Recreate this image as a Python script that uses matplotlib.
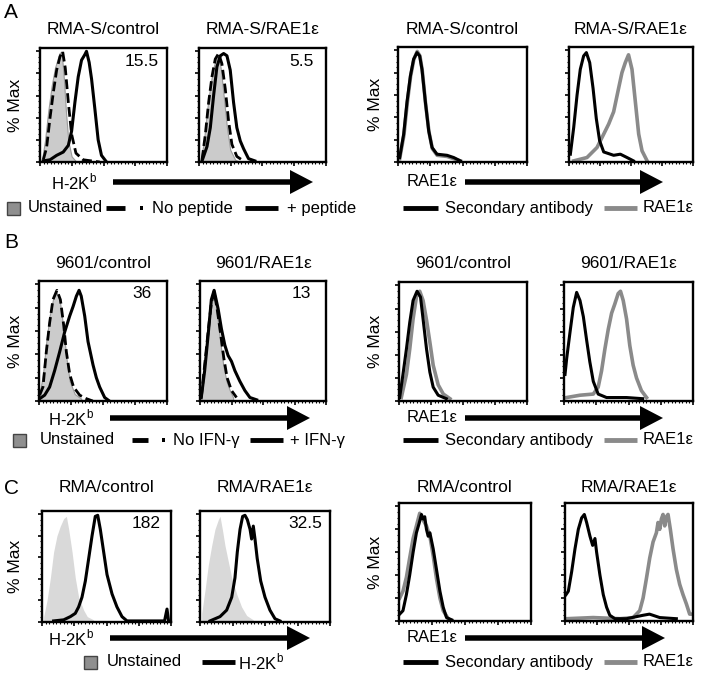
import matplotlib
matplotlib.use("Agg")
from matplotlib import pyplot as plt
from matplotlib import ticker as ticker
import numpy as np

plt.rcParams['font.family'] = ['Liberation Sans', 'DejaVu Sans']

# Histogram outlines: (fluorescence 0-100, % of max)
# Row A, H-2Kb
A1_UNST = [(1.3, 0), (3.9, 19), (6.5, 46), (9.2, 69), (11.8, 85), (15.2, 98), (17, 100), (18.8, 75),
           (20.4, 46), (22.3, 19), (24.9, 5), (28.8, 0)]
A1_NOPEP = [(2.6, 2), (5.2, 13), (7.9, 40), (10.5, 63), (13.1, 83), (15.7, 95), (17.8, 100), (19.9, 85),
            (22.3, 54), (24.9, 25), (28.3, 8), (34, 2), (47, 0)]
A1_PEP = [(2.6, 1), (7.9, 2), (13.1, 6), (18.3, 9), (22.3, 15), (24.9, 28), (27.5, 54), (30.1, 77),
          (32.7, 92), (35.3, 97), (36.6, 100), (38.7, 90), (40.6, 75), (43.2, 48), (45.8, 20), (48.4, 6), (52.4, 0)]
A2_UNST = [(1.0, 0), (3.7, 17), (6.3, 46), (8.9, 69), (11.5, 86), (14.1, 95), (15.4, 97), (17.3, 83),
           (19.4, 60), (22, 31), (24.6, 11), (28.5, 2), (32.5, 0)]
A2_NOPEP = [(2.4, 2), (5, 25), (7.6, 54), (10.2, 77), (12.8, 93), (15.4, 98), (18, 89), (20.7, 66),
            (23.3, 37), (25.9, 16), (29.8, 5), (35, 1)]
A2_PEP = [(2.4, 1), (6.3, 14), (8.9, 31), (11.5, 60), (14.1, 86), (16.8, 96), (19.4, 98), (22, 96),
          (24.6, 83), (27.2, 54), (29.8, 31), (32.5, 19), (35.1, 12), (39, 3), (44, 1)]
# Row A, RAE1e
A3_SEC = [(1.3, 4), (4.4, 25), (7, 54), (9.6, 77), (12.1, 92), (14.7, 98), (16.8, 95), (18.6, 83),
          (21.2, 54), (23.8, 28), (26.4, 13), (30.2, 7), (38, 6), (43.2, 4), (48.3, 1)]
A3_RAE = [(1.3, 3), (4.6, 24), (7.2, 53), (9.8, 77), (12.3, 92), (14.9, 99), (17, 95), (18.8, 82),
          (21.4, 52), (24, 27), (26.6, 12), (30.4, 6), (38, 5), (43.2, 3), (48.3, 1)]
A4_SEC = [(1.1, 7), (3.8, 31), (6.5, 60), (9.1, 83), (11.8, 95), (14, 98), (16.7, 89), (19.4, 66),
          (22, 39), (24.7, 19), (28, 9), (36, 6), (41.4, 7), (46.8, 4), (52, 1)]
A4_RAE = [(3.8, 1), (14.5, 4), (22.6, 13), (28, 25), (32, 34), (36, 45), (40, 66), (42.7, 80),
          (45.4, 89), (48, 96), (50.8, 83), (53.5, 54), (56.2, 25), (58.9, 10), (63, 1)]
# Row B, H-2Kb
B1_UNST = [(0.5, 6), (3.1, 23), (5.7, 51), (8.3, 73), (10.9, 87), (13.5, 94), (16.1, 87), (18.8, 65),
           (21.4, 37), (24, 17), (27.9, 6), (33, 2)]
B1_NOIFN = [(0.5, 5), (3.1, 12), (5.7, 42), (8.3, 67), (10.9, 87), (14, 95), (16.7, 87), (19.3, 65),
            (21.4, 42), (24, 23), (27, 12), (31.8, 5), (37, 2), (42, 0)]
B1_IFN = [(0.5, 2), (4.4, 5), (8.3, 12), (12.2, 26), (16.1, 42), (20, 59), (24, 73), (26.6, 81),
          (29.2, 90), (31.3, 95), (33, 90), (35.7, 73), (38.3, 51), (42.2, 31), (44.8, 20), (47.4, 12),
          (51.3, 3), (55, 0)]
B2_UNST = [(1, 3), (2.9, 26), (5, 51), (7.7, 79), (10.4, 95), (13, 79), (15.7, 54), (18.4, 31),
           (21, 17), (23.7, 9), (26.3, 3)]
B2_NOIFN = [(1, 3), (3.7, 31), (6.4, 59), (9, 84), (11.2, 94), (13.6, 79), (16.2, 59), (18.9, 37),
            (21.5, 20), (25, 9), (29, 3)]
B2_IFN = [(1, 3), (3.7, 26), (6.4, 56), (9, 87), (11.2, 95), (14.4, 79), (17, 62), (19.7, 48),
          (22.3, 39), (25, 34), (27.7, 26), (31.6, 17), (35.6, 9), (39.6, 3), (45, 1)]
# Row B, RAE1e
B3_SEC = [(0.5, 3), (3.1, 23), (5.8, 45), (8.4, 68), (11, 87), (14.1, 95), (16.8, 90), (18.8, 71),
          (21.5, 45), (24.1, 25), (26.7, 12), (30.6, 5), (37, 2)]
B3_RAE = [(1.8, 3), (5.8, 23), (8.4, 45), (11, 71), (13.6, 90), (16.2, 95), (18.8, 87), (21.5, 70),
          (24.1, 51), (26.7, 31), (30.6, 14), (34.6, 6), (39.8, 2)]
B4_SEC = [(0.8, 23), (2.1, 37), (4.6, 59), (7.2, 81), (9.8, 94), (12.4, 87), (15, 73), (17.5, 53),
          (20, 34), (22.7, 17), (26.5, 6), (33, 3), (48.5, 3), (61, 2)]
B4_RAE = [(2, 3), (12.4, 5), (22.7, 6), (26.5, 12), (29.1, 26), (31.7, 45), (34.3, 62), (36.9, 76),
          (39.4, 84), (42, 93), (43.8, 95), (45.9, 87), (48.5, 71), (51, 48), (53.6, 31), (56.2, 20),
          (60, 9), (64, 3)]
# Row C, H-2Kb
C1_UNST = [(1.3, 5), (3.9, 20), (6.5, 41), (9, 65), (11.6, 80), (14.2, 89), (16.8, 96), (18.9, 98),
           (20.7, 86), (23.3, 65), (25.8, 41), (28.4, 23), (32.3, 11), (35.1, 5), (40, 2)]
C1_STAIN = [(9, 1), (16.8, 2), (22, 5), (25.8, 8), (28.4, 14), (31, 23), (33.6, 38), (36.2, 59),
            (38.8, 80), (41.3, 98), (43.2, 99), (45.2, 86), (47.8, 65), (50.4, 44), (54.3, 26),
            (58.1, 14), (62, 5), (65.9, 1), (95, 1), (96.9, 12), (98, 2)]
C2_UNST = [(1.3, 8), (3.8, 29), (6.4, 53), (9, 71), (11.5, 86), (14.1, 95), (15.4, 98), (17.2, 86),
           (19.2, 71), (21.8, 56), (24.4, 41), (28.2, 26), (32, 14), (35.9, 6), (41, 2)]
C2_STAIN = [(7.7, 1), (15.4, 5), (20.5, 11), (24.4, 23), (26.9, 41), (28.7, 65), (30.8, 86), (32.8, 98),
            (34.6, 99), (36.4, 95), (38.5, 86), (39.7, 77), (41, 89), (42.3, 77), (44, 59), (46.7, 38),
            (50, 23), (53.8, 11), (57.7, 3), (61.5, 1)]
# Row C, RAE1e
C3_SEC = [(0.5, 6), (3, 9), (5.6, 23), (8.1, 40), (10.7, 60), (13.2, 77), (15.2, 85), (17, 93),
          (18.3, 89), (19.5, 91), (20.8, 80), (22.1, 74), (23.4, 77), (25.9, 63), (28.4, 45), (31, 26),
          (33.5, 12), (36, 3), (40, 1)]
C3_RAE = [(0.5, 20), (3, 26), (5.6, 38), (8.1, 55), (10.7, 72), (13.2, 83), (15.7, 94), (18.3, 88),
          (20.8, 83), (23.4, 74), (25.9, 57), (28.4, 37), (31, 20), (33.5, 9), (37.3, 2)]
C4_SEC = [(0.8, 23), (2.6, 26), (5.2, 43), (7.8, 63), (10.4, 80), (13, 90), (15.1, 93), (16.9, 86),
          (19.5, 74), (21.6, 66), (23.4, 72), (24.7, 60), (27.3, 40), (29.9, 23), (32.5, 12), (35, 5),
          (39, 2), (48, 2), (61, 5), (66, 6), (74, 3), (87, 2)]
C4_RAE = [(1.3, 2), (22, 3), (42.9, 2), (53.2, 3), (58.4, 9), (61, 20), (63.6, 37), (66.2, 55),
          (68.8, 69), (71.4, 77), (72.7, 86), (74, 80), (75.3, 89), (76.6, 93), (77.9, 83), (79.2, 91),
          (80.5, 93), (82.3, 80), (84.4, 63), (87, 45), (89.6, 32), (92.2, 23), (94.8, 15), (97.4, 6),
          (99.5, 6)]

TITLES = ["RMA-S/control", "RMA-S/RAE1ε", "9601/control", "9601/RAE1ε", "RMA/control", "RMA/RAE1ε"]
NUMBERS = ["15.5", "5.5", "36", "13", "182", "32.5"]

W, H = 704, 676
GRAY_FILL = "#cbcbcb"
GRAY_FILL_C = "#d9d9d9"
GRAY_LINE = "#8a8a8a"

fig = plt.figure(figsize=(W / 100, H / 100), dpi=100)


def panel(box, curves):
    x0, y0, x1, y1 = box
    ax = fig.add_axes([x0 / W, 1 - y1 / H, (x1 - x0) / W, (y1 - y0) / H])
    for kind, pts in curves:
        xs = [p[0] for p in pts]
        ys = [p[1] for p in pts]
        if kind == "fill":
            ax.fill_between(xs, ys, 0, color=GRAY_FILL, lw=0.8, edgecolor="#9a9a9a", zorder=1)
        elif kind == "fillc":
            ax.fill_between(xs, ys, 0, color=GRAY_FILL_C, lw=0, zorder=1)
        elif kind == "dash":
            ax.plot(xs, ys, color="k", lw=2.0, dashes=(3.5, 1.5), zorder=3)
        elif kind == "black":
            ax.plot(xs, ys, color="k", lw=2.2, zorder=3)
        elif kind == "gray":
            ax.plot(xs, ys, color=GRAY_LINE, lw=2.6, zorder=2)
    ax.set_xlim(0, 100)
    ax.set_ylim(0, 103)
    for s in ax.spines.values():
        s.set_linewidth(1.7)
    ax.xaxis.set_major_locator(ticker.MultipleLocator(25))
    ax.xaxis.set_minor_locator(ticker.MultipleLocator(25 / 9))
    ax.yaxis.set_major_locator(ticker.MultipleLocator(20))
    ax.yaxis.set_minor_locator(ticker.MultipleLocator(5))
    ax.tick_params(which="major", direction="out", length=3, width=1.2, labelbottom=False, labelleft=False)
    ax.tick_params(which="minor", direction="out", length=1.5, width=0.8)
    return ax


# panel boxes in pixels (left, top, right, bottom)
boxes = {
    "A1": (40, 48, 167, 162), "A2": (199, 48, 326, 162), "A3": (398, 47, 527, 162), "A4": (569, 47, 693, 162),
    "B1": (39, 281, 167, 401), "B2": (200, 281, 326, 401), "B3": (399, 282, 527, 401), "B4": (564, 282, 693, 401),
    "C1": (42, 511, 171, 622), "C2": (200, 511, 330, 622), "C3": (399, 503, 531, 621), "C4": (565, 503, 693, 621),
}

panel(boxes["A1"], [("fill", A1_UNST), ("dash", A1_NOPEP), ("black", A1_PEP)])
panel(boxes["A2"], [("fill", A2_UNST), ("dash", A2_NOPEP), ("black", A2_PEP)])
panel(boxes["A3"], [("black", A3_SEC), ("gray", A3_RAE)])
panel(boxes["A4"], [("black", A4_SEC), ("gray", A4_RAE)])
panel(boxes["B1"], [("fill", B1_UNST), ("dash", B1_NOIFN), ("black", B1_IFN)])
panel(boxes["B2"], [("fill", B2_UNST), ("dash", B2_NOIFN), ("black", B2_IFN)])
panel(boxes["B3"], [("black", B3_SEC), ("gray", B3_RAE)])
panel(boxes["B4"], [("black", B4_SEC), ("gray", B4_RAE)])
panel(boxes["C1"], [("fillc", C1_UNST), ("black", C1_STAIN)])
panel(boxes["C2"], [("fillc", C2_UNST), ("black", C2_STAIN)])
panel(boxes["C3"], [("gray", C3_RAE), ("black", C3_SEC)])
panel(boxes["C4"], [("gray", C4_RAE), ("black", C4_SEC)])

# overlay in pixel coordinates for labels, arrows and legends
ov = fig.add_axes([0, 0, 1, 1], facecolor="none")
ov.set_xlim(0, W)
ov.set_ylim(H, 0)
ov.axis("off")

FS = 12
for (letter, y) in [("A", 12), ("B", 243), ("C", 488)]:
    ov.text(4, y, letter, fontsize=15, va="center", ha="left")

rows = [("A", 0, 30), ("B", 2, 263), ("C", 4, 487)]
for r, ti, ty in rows:
    for k, t in zip(["1", "2"], [TITLES[ti], TITLES[ti + 1]]):
        b = boxes[r + k]
        ov.text((b[0] + b[2]) / 2, ty, t, fontsize=12.5, ha="center", va="center")
        ov.text(b[2] - 25, b[1] + 13, NUMBERS[ti + int(k) - 1], fontsize=12.5, ha="center", va="center")
    for k, t in zip(["3", "4"], [TITLES[ti], TITLES[ti + 1]]):
        b = boxes[r + k]
        ov.text((b[0] + b[2]) / 2, ty, t, fontsize=12.5, ha="center", va="center")
    for k, x in [("1", 15), ("3", 375)]:
        b = boxes[r + k]
        ov.text(x, (b[1] + b[3]) / 2, "% Max", fontsize=12.5, rotation=90, ha="center", va="center")

H2KB = r"H-2K$^\mathregular{b}$"
arrow_rows = [(182, 113, 313, 465, 663), (418, 110, 310, 465, 663), (638, 110, 310, 465, 665)]
for y, lx0, lx1, rx0, rx1 in arrow_rows:
    ov.text(lx0 - 62, y, H2KB, fontsize=FS, va="center", ha="left")
    ov.text(rx0 - 58, y, "RAE1ε", fontsize=FS, va="center", ha="left")
    for a0, a1 in [(lx0, lx1), (rx0, rx1)]:
        ov.arrow(a0, y, a1 - a0, 0, width=5.5, head_width=24, head_length=23,
                 length_includes_head=True, color="k", lw=0)


def leg_box(x, y, color):
    ov.add_patch(plt.Rectangle((x, y - 6.5), 13, 13, facecolor=color, edgecolor="#444444", lw=1))


def leg_line(x0, x1, y, color):
    ov.plot([x0, x1], [y, y], color=color, lw=3.5, solid_capstyle="butt")


def leg_dash(x0, x1, xd, y):
    ov.plot([x0, x1], [y, y], color="k", lw=3.5, solid_capstyle="butt")
    ov.add_patch(plt.Rectangle((xd, y - 1.7), 3.4, 3.4, color="k", lw=0))


def leg_text(x, y, t):
    ov.text(x, y, t, fontsize=FS, va="center", ha="left")


# row A legends
leg_box(7, 208, "#8f8f8f")
leg_text(28, 208, "Unstained")
leg_dash(106, 125, 140, 208)
leg_text(152, 208, "No peptide")
leg_line(245, 278, 208, "k")
leg_text(287, 208, "+ peptide")
# row B legends
leg_box(13, 440, "#8f8f8f")
leg_text(40, 440, "Unstained")
leg_dash(132, 148, 162, 440)
leg_text(173, 440, "No IFN-γ")
leg_line(250, 283, 440, "k")
leg_text(290, 440, "+ IFN-γ")
# row C legends
leg_box(84, 662, "#8f8f8f")
leg_text(107, 662, "Unstained")
leg_line(202, 235, 662, "k")
leg_text(238, 662, H2KB)
# right legends
for y in [208, 440, 662]:
    leg_line(403, 438, y, "k")
    leg_text(445, y, "Secondary antibody")
    leg_line(604, 637, y, GRAY_LINE)
    leg_text(643, y, "RAE1ε")

fig.savefig("out.png", dpi=100)
